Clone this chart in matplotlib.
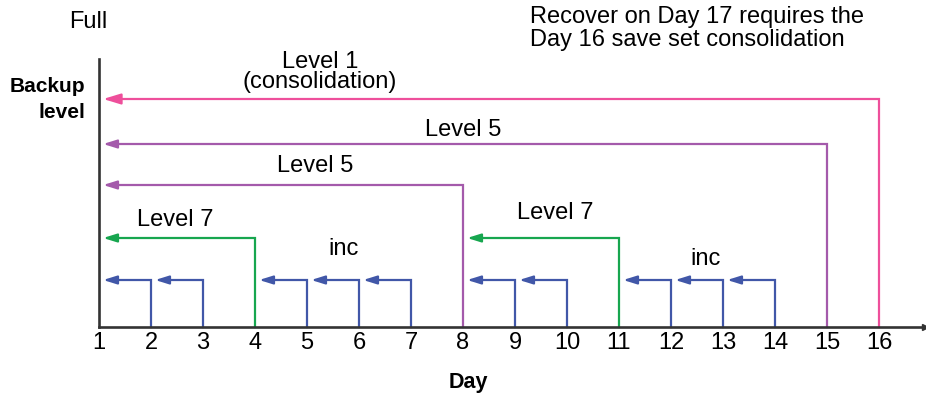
import matplotlib
matplotlib.use("Agg")
import matplotlib.pyplot as plt

plt.rcParams['font.family'] = ['Liberation Sans', 'DejaVu Sans']

# days on the x axis
days = list(range(1, 17))

# each backup: the day it runs, the day it refers back to, and its level height
inc_days = [2, 3, 5, 6, 7, 9, 10, 12, 13, 14]
inc_targets = [1, 2, 4, 5, 6, 8, 9, 11, 12, 13]
inc_height = 47

level7_days = [4, 11]
level7_targets = [1, 8]
level7_height = 89

level5_days = [8, 15]
level5_targets = [1, 1]
level5_heights = [142, 183]

level1_days = [16]
level1_targets = [1]
level1_height = 228

axis_top = 268

BLUE = '#4157a8'
GREEN = '#17a64f'
PURPLE = '#a45aab'
PINK = '#ee4f9b'
AXIS = '#333333'

W, H = 926, 402
STEP = 52.0  # pixels per day
fig = plt.figure(figsize=(W / 100, H / 100), dpi=100)
ax = fig.add_axes([99 / W, (H - 328) / H, (925 - 99) / W, (328 - 60) / H])
ax.set_xlim(1, 1 + (925 - 99) / STEP)
ax.set_ylim(0, axis_top)

for s in ['top', 'right']:
    ax.spines[s].set_visible(False)
for s in ['left', 'bottom']:
    ax.spines[s].set_color(AXIS)
    ax.spines[s].set_linewidth(1.9)
ax.plot(1, 0, '>', color=AXIS, markersize=5, transform=ax.transAxes, clip_on=False)

ax.set_yticks([])
ax.set_xticks(days)
ax.set_xticklabels([str(d) for d in days], fontsize=17)
ax.tick_params(axis='x', length=0, pad=3)


def backup(day, target, height, color, big=False):
    tip = target + 0.08
    ax.plot([day, day, tip + 0.15], [0, height, height], color=color, lw=1.6,
            solid_joinstyle='miter', clip_on=False)
    hl, hw = (1.05, 0.32) if big else (0.8, 0.25)
    ax.annotate('', xy=(tip, height), xytext=(tip + 0.3, height),
                arrowprops=dict(arrowstyle='-|>,head_length=%s,head_width=%s' % (hl, hw),
                                mutation_scale=10, color=color, lw=1.6,
                                shrinkA=0, shrinkB=0))


for d, t in zip(inc_days, inc_targets):
    backup(d, t, inc_height, BLUE)
for d, t in zip(level7_days, level7_targets):
    backup(d, t, level7_height, GREEN)
for d, t, h in zip(level5_days, level5_targets, level5_heights):
    backup(d, t, h, PURPLE)
for d, t in zip(level1_days, level1_targets):
    backup(d, t, level1_height, PINK, big=True)

txt = dict(fontsize=17, ha='center', va='center', clip_on=False)


def px(x, y):
    # figure pixel position -> data coordinates
    return 1 + (x - 99) / STEP, 328 - y


ax.text(*px(320, 62), 'Level 1', **txt)
ax.text(*px(320, 82), '(consolidation)', **txt)
ax.text(*px(463, 130), 'Level 5', **txt)
ax.text(*px(315, 166), 'Level 5', **txt)
ax.text(*px(175, 220), 'Level 7', **txt)
ax.text(*px(555, 213), 'Level 7', **txt)
ax.text(*px(344, 249), 'inc', **txt)
ax.text(*px(706, 259), 'inc', **txt)
ax.text(*px(88, 22), 'Full', **txt)

ax.text(*px(530, 17), 'Recover on Day 17 requires the', fontsize=17, ha='left', va='center')
ax.text(*px(530, 40), 'Day 16 save set consolidation', fontsize=17, ha='left', va='center')

ax.text(*px(85, 87), 'Backup', fontsize=15, fontweight='bold', ha='right', va='center')
ax.text(*px(85, 112), 'level', fontsize=15, fontweight='bold', ha='right', va='center')
ax.text(*px(468, 383), 'Day', fontsize=15.5, fontweight='bold', ha='center', va='center')

fig.savefig('out.png', dpi=100)
